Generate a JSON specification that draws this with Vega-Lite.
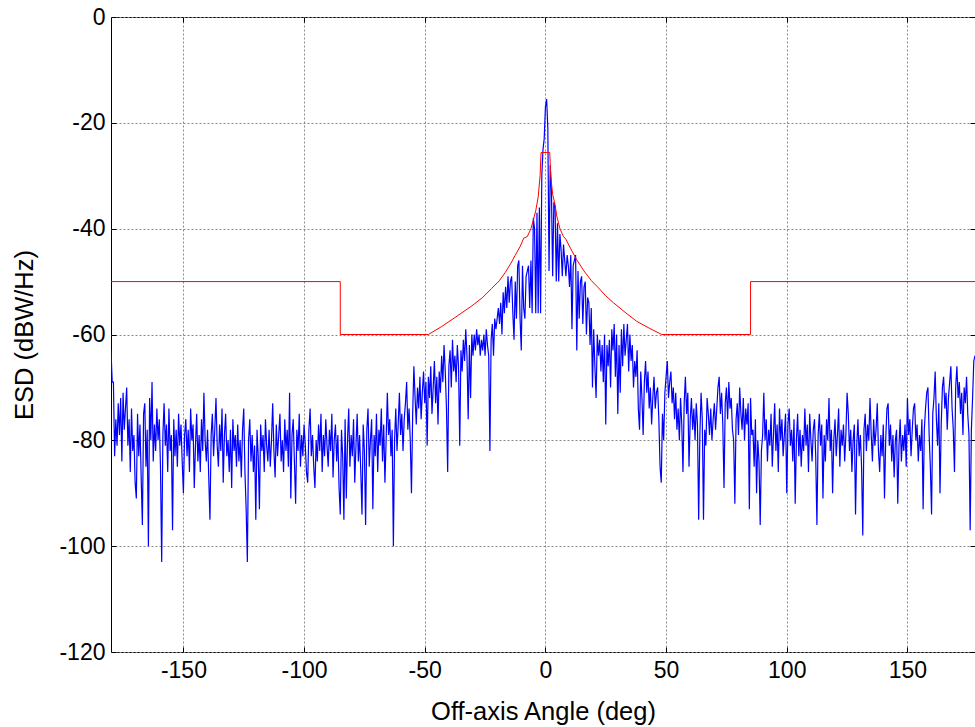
{
"$schema": "https://vega.github.io/schema/vega-lite/v6.json",
"width": 864, "height": 635,
"autosize": {"type": "none"},
"padding": {"left": 111, "top": 17, "right": 0, "bottom": 75},
"background": "white",
"config": {
  "view": {"stroke": "black", "strokeWidth": 1},
  "axis": {"labelFont": "Liberation Sans", "titleFont": "Liberation Sans", "labelFontSize": 23, "titleFontSize": 25.5, "titleFontWeight": "normal", "labelColor": "black", "titleColor": "black", "domain": false, "tickColor": "black", "tickSize": -5, "gridColor": "#888888", "gridDash": [2, 2], "gridOpacity": 1, "labelExpr": "replace(datum.label, '\u2212', '-')"}
},
"datasets": {
"esd": [
{"a":-180,"e":-63},{"a":-179.5,"e":-69},{"a":-179,"e":-69},{"a":-178.5,"e":-83},{"a":-178,"e":-76},{"a":-177.5,"e":-81},{"a":-177,"e":-73},{"a":-176.5,"e":-79},{"a":-176,"e":-72},{"a":-175.5,"e":-84},
{"a":-175,"e":-71},{"a":-174.5,"e":-78},{"a":-174,"e":-74},{"a":-173.5,"e":-70},{"a":-173,"e":-81},{"a":-172.5,"e":-76},{"a":-172,"e":-86},{"a":-171.5,"e":-74},{"a":-171,"e":-82},{"a":-170.5,"e":-79},
{"a":-170,"e":-88},{"a":-169.5,"e":-91},{"a":-169,"e":-75},{"a":-168.5,"e":-83},{"a":-168,"e":-77},{"a":-167.5,"e":-87},{"a":-167,"e":-96},{"a":-166.5,"e":-75},{"a":-166,"e":-73},{"a":-165.5,"e":-85},
{"a":-165,"e":-78},{"a":-164.5,"e":-100},{"a":-164,"e":-72},{"a":-163.5,"e":-80},{"a":-163,"e":-69},{"a":-162.5,"e":-84},{"a":-162,"e":-77},{"a":-161.5,"e":-82},{"a":-161,"e":-74},{"a":-160.5,"e":-80},
{"a":-160,"e":-76},{"a":-159.5,"e":-85},{"a":-159,"e":-103},{"a":-158.5,"e":-79},{"a":-158,"e":-73},{"a":-157.5,"e":-81},{"a":-157,"e":-77},{"a":-156.5,"e":-86},{"a":-156,"e":-74},{"a":-155.5,"e":-82},
{"a":-155,"e":-79},{"a":-154.5,"e":-97},{"a":-154,"e":-76},{"a":-153.5,"e":-83},{"a":-153,"e":-78},{"a":-152.5,"e":-85},{"a":-152,"e":-75},{"a":-151.5,"e":-81},{"a":-151,"e":-77},{"a":-150.5,"e":-84},
{"a":-150,"e":-90},{"a":-149.5,"e":-79},{"a":-149,"e":-76},{"a":-148.5,"e":-83},{"a":-148,"e":-78},{"a":-147.5,"e":-86},{"a":-147,"e":-74},{"a":-146.5,"e":-80},{"a":-146,"e":-77},{"a":-145.5,"e":-89},
{"a":-145,"e":-81},{"a":-144.5,"e":-75},{"a":-144,"e":-84},{"a":-143.5,"e":-79},{"a":-143,"e":-86},{"a":-142.5,"e":-76},{"a":-142,"e":-82},{"a":-141.5,"e":-71},{"a":-141,"e":-80},{"a":-140.5,"e":-84},
{"a":-140,"e":-78},{"a":-139.5,"e":-87},{"a":-139,"e":-95},{"a":-138.5,"e":-79},{"a":-138,"e":-75},{"a":-137.5,"e":-83},{"a":-137,"e":-78},{"a":-136.5,"e":-72},{"a":-136,"e":-81},{"a":-135.5,"e":-85},
{"a":-135,"e":-77},{"a":-134.5,"e":-82},{"a":-134,"e":-74},{"a":-133.5,"e":-88},{"a":-133,"e":-79},{"a":-132.5,"e":-75},{"a":-132,"e":-83},{"a":-131.5,"e":-80},{"a":-131,"e":-86},{"a":-130.5,"e":-78},
{"a":-130,"e":-89},{"a":-129.5,"e":-76},{"a":-129,"e":-82},{"a":-128.5,"e":-79},{"a":-128,"e":-85},{"a":-127.5,"e":-77},{"a":-127,"e":-84},{"a":-126.5,"e":-80},{"a":-126,"e":-87},{"a":-125.5,"e":-78},
{"a":-125,"e":-74},{"a":-124.5,"e":-86},{"a":-124,"e":-93},{"a":-123.5,"e":-103},{"a":-123,"e":-80},{"a":-122.5,"e":-76},{"a":-122,"e":-84},{"a":-121.5,"e":-79},{"a":-121,"e":-86},{"a":-120.5,"e":-81},
{"a":-120,"e":-95},{"a":-119.5,"e":-78},{"a":-119,"e":-83},{"a":-118.5,"e":-93},{"a":-118,"e":-77},{"a":-117.5,"e":-82},{"a":-117,"e":-79},{"a":-116.5,"e":-86},{"a":-116,"e":-76},{"a":-115.5,"e":-81},
{"a":-115,"e":-84},{"a":-114.5,"e":-78},{"a":-114,"e":-85},{"a":-113.5,"e":-80},{"a":-113,"e":-73},{"a":-112.5,"e":-82},{"a":-112,"e":-87},{"a":-111.5,"e":-77},{"a":-111,"e":-83},{"a":-110.5,"e":-79},
{"a":-110,"e":-75},{"a":-109.5,"e":-84},{"a":-109,"e":-80},{"a":-108.5,"e":-86},{"a":-108,"e":-76},{"a":-107.5,"e":-82},{"a":-107,"e":-78},{"a":-106.5,"e":-85},{"a":-106,"e":-71},{"a":-105.5,"e":-91},
{"a":-105,"e":-79},{"a":-104.5,"e":-76},{"a":-104,"e":-84},{"a":-103.5,"e":-92},{"a":-103,"e":-78},{"a":-102.5,"e":-82},{"a":-102,"e":-75},{"a":-101.5,"e":-85},{"a":-101,"e":-79},{"a":-100.5,"e":-83},
{"a":-100,"e":-77},{"a":-99.5,"e":-81},{"a":-99,"e":-86},{"a":-98.5,"e":-88},{"a":-98,"e":-78},{"a":-97.5,"e":-74},{"a":-97,"e":-83},{"a":-96.5,"e":-79},{"a":-96,"e":-85},{"a":-95.5,"e":-89},
{"a":-95,"e":-80},{"a":-94.5,"e":-84},{"a":-94,"e":-77},{"a":-93.5,"e":-82},{"a":-93,"e":-75},{"a":-92.5,"e":-86},{"a":-92,"e":-79},{"a":-91.5,"e":-83},{"a":-91,"e":-76},{"a":-90.5,"e":-81},
{"a":-90,"e":-85},{"a":-89.5,"e":-78},{"a":-89,"e":-82},{"a":-88.5,"e":-75},{"a":-88,"e":-87},{"a":-87.5,"e":-80},{"a":-87,"e":-77},{"a":-86.5,"e":-84},{"a":-86,"e":-79},{"a":-85.5,"e":-89},
{"a":-85,"e":-94},{"a":-84.5,"e":-78},{"a":-84,"e":-83},{"a":-83.5,"e":-95},{"a":-83,"e":-76},{"a":-82.5,"e":-91},{"a":-82,"e":-80},{"a":-81.5,"e":-74},{"a":-81,"e":-85},{"a":-80.5,"e":-79},
{"a":-80,"e":-83},{"a":-79.5,"e":-76},{"a":-79,"e":-88},{"a":-78.5,"e":-81},{"a":-78,"e":-75},{"a":-77.5,"e":-84},{"a":-77,"e":-79},{"a":-76.5,"e":-86},{"a":-76,"e":-94},{"a":-75.5,"e":-77},
{"a":-75,"e":-82},{"a":-74.5,"e":-96},{"a":-74,"e":-78},{"a":-73.5,"e":-74},{"a":-73,"e":-85},{"a":-72.5,"e":-80},{"a":-72,"e":-76},{"a":-71.5,"e":-93},{"a":-71,"e":-79},{"a":-70.5,"e":-83},
{"a":-70,"e":-75},{"a":-69.5,"e":-86},{"a":-69,"e":-78},{"a":-68.5,"e":-81},{"a":-68,"e":-74},{"a":-67.5,"e":-84},{"a":-67,"e":-77},{"a":-66.5,"e":-88},{"a":-66,"e":-80},{"a":-65.5,"e":-71},
{"a":-65,"e":-79},{"a":-64.5,"e":-76},{"a":-64,"e":-83},{"a":-63.5,"e":-78},{"a":-63,"e":-100},{"a":-62.5,"e":-80},{"a":-62,"e":-74},{"a":-61.5,"e":-82},{"a":-61,"e":-77},{"a":-60.5,"e":-71},
{"a":-60,"e":-79},{"a":-59.5,"e":-75},{"a":-59,"e":-82},{"a":-58.5,"e":-76},{"a":-58,"e":-73},{"a":-57.5,"e":-69},{"a":-57,"e":-78},{"a":-56.5,"e":-74},{"a":-56,"e":-80},{"a":-55.5,"e":-90},
{"a":-55,"e":-75},{"a":-54.5,"e":-66},{"a":-54,"e":-72},{"a":-53.5,"e":-77},{"a":-53,"e":-70},{"a":-52.5,"e":-74},{"a":-52,"e":-68},{"a":-51.5,"e":-76},{"a":-51,"e":-71},{"a":-50.5,"e":-67},
{"a":-50,"e":-73},{"a":-49.5,"e":-69},{"a":-49,"e":-81},{"a":-48.5,"e":-68},{"a":-48,"e":-72},{"a":-47.5,"e":-66},{"a":-47,"e":-75},{"a":-46.5,"e":-70},{"a":-46,"e":-65},{"a":-45.5,"e":-73},
{"a":-45,"e":-68},{"a":-44.5,"e":-77},{"a":-44,"e":-67},{"a":-43.5,"e":-71},{"a":-43,"e":-64},{"a":-42.5,"e":-69},{"a":-42,"e":-62},{"a":-41.5,"e":-67},{"a":-41,"e":-74},{"a":-40.5,"e":-86},
{"a":-40,"e":-66},{"a":-39.5,"e":-63},{"a":-39,"e":-70},{"a":-38.5,"e":-61},{"a":-38,"e":-67},{"a":-37.5,"e":-64},{"a":-37,"e":-69},{"a":-36.5,"e":-62},{"a":-36,"e":-66},{"a":-35.5,"e":-81},
{"a":-35,"e":-63},{"a":-34.5,"e":-67},{"a":-34,"e":-61},{"a":-33.5,"e":-65},{"a":-33,"e":-59},{"a":-32.5,"e":-64},{"a":-32,"e":-76},{"a":-31.5,"e":-62},{"a":-31,"e":-72},{"a":-30.5,"e":-60},
{"a":-30,"e":-64},{"a":-29.5,"e":-60},{"a":-29,"e":-63},{"a":-28.5,"e":-59},{"a":-28,"e":-62},{"a":-27.5,"e":-60},{"a":-27,"e":-64},{"a":-26.5,"e":-61},{"a":-26,"e":-63},{"a":-25.5,"e":-60},
{"a":-25,"e":-64},{"a":-24.5,"e":-59},{"a":-24,"e":-62},{"a":-23.5,"e":-64},{"a":-23,"e":-82},{"a":-22.5,"e":-61},{"a":-22,"e":-58},{"a":-21.5,"e":-64},{"a":-21,"e":-57},{"a":-20.5,"e":-59},
{"a":-20,"e":-57},{"a":-19.5,"e":-55},{"a":-19,"e":-58},{"a":-18.5,"e":-54},{"a":-18,"e":-60},{"a":-17.5,"e":-52},{"a":-17,"e":-56},{"a":-16.5,"e":-51},{"a":-16,"e":-55},{"a":-15.5,"e":-49},
{"a":-15,"e":-54},{"a":-14.5,"e":-50},{"a":-14,"e":-49},{"a":-13.5,"e":-56},{"a":-13,"e":-61},{"a":-12.5,"e":-50},{"a":-12,"e":-57},{"a":-11.5,"e":-47},{"a":-11,"e":-46},{"a":-10.5,"e":-57},
{"a":-10,"e":-63},{"a":-9.5,"e":-47},{"a":-9,"e":-55},{"a":-8.5,"e":-57},{"a":-8,"e":-49},{"a":-7.5,"e":-48},{"a":-7,"e":-47},{"a":-6.5,"e":-55},{"a":-6,"e":-46},{"a":-5.5,"e":-56},
{"a":-5,"e":-38},{"a":-4.5,"e":-40},{"a":-4,"e":-56},{"a":-3.5,"e":-37},{"a":-3,"e":-56},{"a":-2.5,"e":-36},{"a":-2,"e":-56},{"a":-1.5,"e":-30},{"a":-1,"e":-25},{"a":-0.5,"e":-23},
{"a":0,"e":-17},{"a":0.5,"e":-15.5},{"a":1,"e":-21},{"a":1.5,"e":-48},{"a":2,"e":-28},{"a":2.5,"e":-33},{"a":3,"e":-49},{"a":3.5,"e":-35},{"a":4,"e":-36},{"a":4.5,"e":-50},
{"a":5,"e":-39},{"a":5.5,"e":-50},{"a":6,"e":-41},{"a":6.5,"e":-44},{"a":7,"e":-49},{"a":7.5,"e":-43},{"a":8,"e":-46},{"a":8.5,"e":-49},{"a":9,"e":-45},{"a":9.5,"e":-47},
{"a":10,"e":-51},{"a":10.5,"e":-45},{"a":11,"e":-59},{"a":11.5,"e":-47},{"a":12,"e":-46},{"a":12.5,"e":-45},{"a":13,"e":-63},{"a":13.5,"e":-48},{"a":14,"e":-57},{"a":14.5,"e":-50},
{"a":15,"e":-49},{"a":15.5,"e":-58},{"a":16,"e":-51},{"a":16.5,"e":-50},{"a":17,"e":-60},{"a":17.5,"e":-53},{"a":18,"e":-54},{"a":18.5,"e":-62},{"a":19,"e":-55},{"a":19.5,"e":-70},
{"a":20,"e":-59},{"a":20.5,"e":-66},{"a":21,"e":-72},{"a":21.5,"e":-60},{"a":22,"e":-64},{"a":22.5,"e":-61},{"a":23,"e":-67},{"a":23.5,"e":-62},{"a":24,"e":-69},{"a":24.5,"e":-60},
{"a":25,"e":-77},{"a":25.5,"e":-62},{"a":26,"e":-66},{"a":26.5,"e":-61},{"a":27,"e":-70},{"a":27.5,"e":-59},{"a":28,"e":-63},{"a":28.5,"e":-58},{"a":29,"e":-68},{"a":29.5,"e":-60},
{"a":30,"e":-75},{"a":30.5,"e":-62},{"a":31,"e":-71},{"a":31.5,"e":-59},{"a":32,"e":-66},{"a":32.5,"e":-58},{"a":33,"e":-64},{"a":33.5,"e":-61},{"a":34,"e":-58},{"a":34.5,"e":-67},
{"a":35,"e":-60},{"a":35.5,"e":-65},{"a":36,"e":-62},{"a":36.5,"e":-70},{"a":37,"e":-65},{"a":37.5,"e":-68},{"a":38,"e":-63},{"a":38.5,"e":-74},{"a":39,"e":-78},{"a":39.5,"e":-67},
{"a":40,"e":-72},{"a":40.5,"e":-79},{"a":41,"e":-69},{"a":41.5,"e":-65},{"a":42,"e":-71},{"a":42.5,"e":-67},{"a":43,"e":-74},{"a":43.5,"e":-70},{"a":44,"e":-77},{"a":44.5,"e":-72},
{"a":45,"e":-68},{"a":45.5,"e":-74},{"a":46,"e":-71},{"a":46.5,"e":-70},{"a":47,"e":-76},{"a":47.5,"e":-85},{"a":48,"e":-88},{"a":48.5,"e":-75},{"a":49,"e":-80},{"a":49.5,"e":-71},
{"a":50,"e":-68},{"a":50.5,"e":-65},{"a":51,"e":-72},{"a":51.5,"e":-69},{"a":52,"e":-67},{"a":52.5,"e":-73},{"a":53,"e":-70},{"a":53.5,"e":-76},{"a":54,"e":-71},{"a":54.5,"e":-78},
{"a":55,"e":-74},{"a":55.5,"e":-80},{"a":56,"e":-72},{"a":56.5,"e":-77},{"a":57,"e":-86},{"a":57.5,"e":-73},{"a":58,"e":-68},{"a":58.5,"e":-75},{"a":59,"e":-71},{"a":59.5,"e":-85},
{"a":60,"e":-76},{"a":60.5,"e":-72},{"a":61,"e":-78},{"a":61.5,"e":-74},{"a":62,"e":-80},{"a":62.5,"e":-73},{"a":63,"e":-77},{"a":63.5,"e":-95},{"a":64,"e":-79},{"a":64.5,"e":-71},
{"a":65,"e":-76},{"a":65.5,"e":-95},{"a":66,"e":-78},{"a":66.5,"e":-81},{"a":67,"e":-72},{"a":67.5,"e":-75},{"a":68,"e":-79},{"a":68.5,"e":-74},{"a":69,"e":-80},{"a":69.5,"e":-76},
{"a":70,"e":-73},{"a":70.5,"e":-78},{"a":71,"e":-74},{"a":71.5,"e":-70},{"a":72,"e":-68},{"a":72.5,"e":-75},{"a":73,"e":-71},{"a":73.5,"e":-77},{"a":74,"e":-89},{"a":74.5,"e":-73},
{"a":75,"e":-70},{"a":75.5,"e":-76},{"a":76,"e":-69},{"a":76.5,"e":-74},{"a":77,"e":-72},{"a":77.5,"e":-78},{"a":78,"e":-80},{"a":78.5,"e":-92},{"a":79,"e":-76},{"a":79.5,"e":-73},
{"a":80,"e":-79},{"a":80.5,"e":-70},{"a":81,"e":-75},{"a":81.5,"e":-78},{"a":82,"e":-72},{"a":82.5,"e":-80},{"a":83,"e":-74},{"a":83.5,"e":-77},{"a":84,"e":-73},{"a":84.5,"e":-93},
{"a":85,"e":-72},{"a":85.5,"e":-79},{"a":86,"e":-78},{"a":86.5,"e":-85},{"a":87,"e":-76},{"a":87.5,"e":-90},{"a":88,"e":-80},{"a":88.5,"e":-84},{"a":89,"e":-96},{"a":89.5,"e":-82},
{"a":90,"e":-79},{"a":90.5,"e":-71},{"a":91,"e":-80},{"a":91.5,"e":-76},{"a":92,"e":-84},{"a":92.5,"e":-78},{"a":93,"e":-81},{"a":93.5,"e":-75},{"a":94,"e":-85},{"a":94.5,"e":-79},
{"a":95,"e":-73},{"a":95.5,"e":-82},{"a":96,"e":-77},{"a":96.5,"e":-86},{"a":97,"e":-74},{"a":97.5,"e":-80},{"a":98,"e":-76},{"a":98.5,"e":-83},{"a":99,"e":-79},{"a":99.5,"e":-75},
{"a":100,"e":-90},{"a":100.5,"e":-77},{"a":101,"e":-74},{"a":101.5,"e":-81},{"a":102,"e":-78},{"a":102.5,"e":-84},{"a":103,"e":-76},{"a":103.5,"e":-92},{"a":104,"e":-80},{"a":104.5,"e":-75},
{"a":105,"e":-83},{"a":105.5,"e":-78},{"a":106,"e":-85},{"a":106.5,"e":-79},{"a":107,"e":-82},{"a":107.5,"e":-74},{"a":108,"e":-81},{"a":108.5,"e":-77},{"a":109,"e":-86},{"a":109.5,"e":-75},
{"a":110,"e":-80},{"a":110.5,"e":-84},{"a":111,"e":-78},{"a":111.5,"e":-76},{"a":112,"e":-83},{"a":112.5,"e":-96},{"a":113,"e":-79},{"a":113.5,"e":-75},{"a":114,"e":-81},{"a":114.5,"e":-77},
{"a":115,"e":-91},{"a":115.5,"e":-79},{"a":116,"e":-84},{"a":116.5,"e":-76},{"a":117,"e":-80},{"a":117.5,"e":-72},{"a":118,"e":-82},{"a":118.5,"e":-78},{"a":119,"e":-90},{"a":119.5,"e":-80},
{"a":120,"e":-76},{"a":120.5,"e":-83},{"a":121,"e":-79},{"a":121.5,"e":-74},{"a":122,"e":-85},{"a":122.5,"e":-78},{"a":123,"e":-81},{"a":123.5,"e":-77},{"a":124,"e":-84},{"a":124.5,"e":-79},
{"a":125,"e":-71},{"a":125.5,"e":-75},{"a":126,"e":-82},{"a":126.5,"e":-78},{"a":127,"e":-86},{"a":127.5,"e":-80},{"a":128,"e":-77},{"a":128.5,"e":-94},{"a":129,"e":-81},{"a":129.5,"e":-76},
{"a":130,"e":-83},{"a":130.5,"e":-79},{"a":131,"e":-85},{"a":131.5,"e":-98},{"a":132,"e":-78},{"a":132.5,"e":-75},{"a":133,"e":-82},{"a":133.5,"e":-77},{"a":134,"e":-80},{"a":134.5,"e":-72},
{"a":135,"e":-79},{"a":135.5,"e":-84},{"a":136,"e":-76},{"a":136.5,"e":-81},{"a":137,"e":-78},{"a":137.5,"e":-73},{"a":138,"e":-82},{"a":138.5,"e":-86},{"a":139,"e":-79},{"a":139.5,"e":-83},
{"a":140,"e":-77},{"a":140.5,"e":-91},{"a":141,"e":-80},{"a":141.5,"e":-74},{"a":142,"e":-73},{"a":142.5,"e":-81},{"a":143,"e":-77},{"a":143.5,"e":-84},{"a":144,"e":-79},{"a":144.5,"e":-87},
{"a":145,"e":-80},{"a":145.5,"e":-78},{"a":146,"e":-92},{"a":146.5,"e":-81},{"a":147,"e":-76},{"a":147.5,"e":-84},{"a":148,"e":-79},{"a":148.5,"e":-82},{"a":149,"e":-77},{"a":149.5,"e":-85},
{"a":150,"e":-72},{"a":150.5,"e":-79},{"a":151,"e":-76},{"a":151.5,"e":-83},{"a":152,"e":-78},{"a":152.5,"e":-74},{"a":153,"e":-73},{"a":153.5,"e":-80},{"a":154,"e":-77},{"a":154.5,"e":-84},
{"a":155,"e":-79},{"a":155.5,"e":-82},{"a":156,"e":-76},{"a":156.5,"e":-93},{"a":157,"e":-78},{"a":157.5,"e":-74},{"a":158,"e":-71},{"a":158.5,"e":-70},{"a":159,"e":-79},{"a":159.5,"e":-85},
{"a":160,"e":-94},{"a":160.5,"e":-75},{"a":161,"e":-72},{"a":161.5,"e":-67},{"a":162,"e":-76},{"a":162.5,"e":-81},{"a":163,"e":-73},{"a":163.5,"e":-90},{"a":164,"e":-77},{"a":164.5,"e":-70},
{"a":165,"e":-68},{"a":165.5,"e":-74},{"a":166,"e":-71},{"a":166.5,"e":-78},{"a":167,"e":-72},{"a":167.5,"e":-69},{"a":168,"e":-66},{"a":168.5,"e":-74},{"a":169,"e":-78},{"a":169.5,"e":-86},
{"a":170,"e":-70},{"a":170.5,"e":-66},{"a":171,"e":-72},{"a":171.5,"e":-69},{"a":172,"e":-75},{"a":172.5,"e":-71},{"a":173,"e":-79},{"a":173.5,"e":-70},{"a":174,"e":-73},{"a":174.5,"e":-68},
{"a":175,"e":-75},{"a":175.5,"e":-79},{"a":176,"e":-97},{"a":176.5,"e":-78},{"a":177,"e":-72},{"a":177.5,"e":-65},{"a":178,"e":-64}
],
"mask": [
{"i":1,"a":-180,"m":-50},{"i":2,"a":-85,"m":-50},{"i":3,"a":-85,"m":-60},{"i":4,"a":-48.5,"m":-60},{"i":5,"a":-43,"m":-58.5},{"i":6,"a":-37.5,"m":-56.8},{"i":7,"a":-30.5,"m":-54.6},{"i":8,"a":-26,"m":-53},{"i":9,"a":-22.3,"m":-51.3},{"i":10,"a":-19,"m":-49.8},
{"i":11,"a":-16.7,"m":-48.3},{"i":12,"a":-14.5,"m":-46.7},{"i":13,"a":-12.6,"m":-45.1},{"i":14,"a":-10.5,"m":-43.4},{"i":15,"a":-9,"m":-41.8},{"i":16,"a":-7.5,"m":-41.5},{"i":17,"a":-6,"m":-40},{"i":18,"a":-5,"m":-38.4},{"i":19,"a":-4,"m":-36.6},{"i":20,"a":-3,"m":-34},
{"i":21,"a":-2.2,"m":-30},{"i":22,"a":-1.8,"m":-25.6},{"i":23,"a":1.8,"m":-25.6},{"i":24,"a":2.2,"m":-30},{"i":25,"a":3,"m":-33.5},{"i":26,"a":4,"m":-35.5},{"i":27,"a":4.7,"m":-37.6},{"i":28,"a":6,"m":-40},{"i":29,"a":7.5,"m":-41.5},{"i":30,"a":8.5,"m":-42},
{"i":31,"a":10.5,"m":-43.8},{"i":32,"a":13,"m":-45.9},{"i":33,"a":16,"m":-48},{"i":34,"a":19,"m":-49.8},{"i":35,"a":22,"m":-51.2},{"i":36,"a":25,"m":-52.7},{"i":37,"a":28.2,"m":-54},{"i":38,"a":33,"m":-55.8},{"i":39,"a":37.8,"m":-57.5},{"i":40,"a":43,"m":-58.8},
{"i":41,"a":48.2,"m":-60},{"i":42,"a":85,"m":-60},{"i":43,"a":85,"m":-50},{"i":44,"a":178,"m":-50}
]
},
"resolve": {"axis": {"x": "independent", "y": "independent"}},
"layer": [
  {
    "data": {"name": "esd"},
    "mark": {"type": "line", "color": "#0000ff", "strokeWidth": 1.2, "clip": true},
    "encoding": {
      "x": {"field": "a", "type": "quantitative", "scale": {"domain": [-180, 178], "nice": false, "zero": false},
            "axis": {"orient": "bottom", "values": [-150, -100, -50, 0, 50, 100, 150], "grid": true, "labelPadding": 12, "title": "Off-axis Angle (deg)", "titlePadding": 17}},
      "y": {"field": "e", "type": "quantitative", "scale": {"domain": [-120, 0], "nice": false, "zero": false},
            "axis": {"orient": "left", "values": [-120, -100, -80, -60, -40, -20, 0], "grid": true, "labelPadding": 11, "title": "ESD (dBW/Hz)", "titlePadding": 21}}
    }
  },
  {
    "data": {"name": "mask"},
    "mark": {"type": "line", "color": "#ff0000", "strokeWidth": 1, "clip": true},
    "encoding": {
      "x": {"field": "a", "type": "quantitative", "scale": {"domain": [-180, 178], "nice": false, "zero": false},
            "axis": {"orient": "top", "values": [-150, -100, -50, 0, 50, 100, 150], "grid": false, "labels": false, "title": null}},
      "y": {"field": "m", "type": "quantitative", "scale": {"domain": [-120, 0], "nice": false, "zero": false},
            "axis": {"orient": "right", "values": [-120, -100, -80, -60, -40, -20, 0], "grid": false, "labels": false, "title": null}},
      "order": {"field": "i", "type": "quantitative"}
    }
  }
]
}
